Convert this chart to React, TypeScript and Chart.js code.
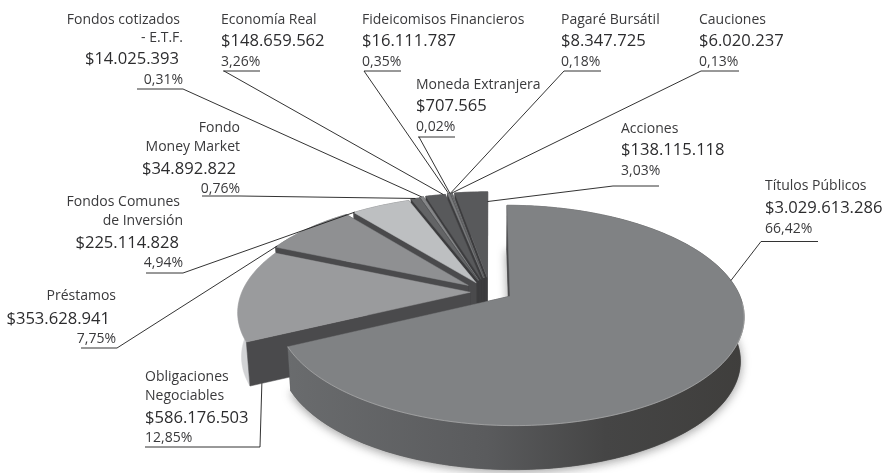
import React, { useEffect, useRef } from "react";
import { Chart, registerables } from "chart.js";

Chart.register(...registerables);

// ---- data, in drawing order (clockwise from 12 o'clock) ----
const nameLines: string[][] = [
  ["Títulos Públicos"],
  ["Obligaciones", "Negociables"],
  ["Préstamos"],
  ["Fondos Comunes", "de Inversión"],
  ["Fondo", "Money Market"],
  ["Fondos cotizados", "- E.T.F."],
  ["Economía Real"],
  ["Fideicomisos Financieros"],
  ["Moneda Extranjera"],
  ["Pagaré Bursátil"],
  ["Cauciones"],
  ["Acciones"],
];
const amounts = [
  3029613286, 586176503, 353628941, 225114828, 34892822, 14025393, 148659562,
  16111787, 707565, 8347725, 6020237, 138115118,
];
const shares = [
  "66,42%", "12,85%", "7,75%", "4,94%", "0,76%", "0,31%", "3,26%", "0,35%",
  "0,02%", "0,18%", "0,13%", "3,03%",
];
const explode = [0.1, 0.087, 0.11, 0.1, 0.11, 0.12, 0.12, 0.13, 0.13, 0.13, 0.13, 0.13];
const topColors = [
  "#808284", "#9a9b9d", "#8f9092", "#bdbfc1", "#636466", "#858688", "#58595b",
  "#7b7c7e", "#6a6b6d", "#77787a", "#77787a", "#58595b",
];

// ---- layout of the annotations (not data) ----
type Lay = {
  align: "left" | "right";
  x: number;
  xValue?: number;
  nameX?: number[];
  nameY: number[];
  valueY: number;
  pctY: number;
  under: [number, number, number];
  from: [number, number];
  at: [number, number, number]; // position along the slice, radius, depth
};
const layout: Lay[] = [
  { align: "left", x: 765, nameY: [190], valueY: 213, pctY: 233, under: [761, 818, 241.5], from: [761, 241.5], at: [0.34, 1, 0] },
  { align: "left", x: 145, nameY: [381, 400], valueY: 423, pctY: 442, under: [145, 260, 447], from: [260, 447], at: [0, 0.95, 1] },
  { align: "right", x: 116, xValue: 110, nameY: [300], valueY: 324, pctY: 343, under: [81, 117, 348], from: [117, 348], at: [0.03, 1, 0] },
  { align: "right", x: 183, xValue: 179, nameX: [180, 183], nameY: [206, 225], valueY: 248, pctY: 267, under: [146, 183, 273], from: [183, 273], at: [0.02, 1, 0] },
  { align: "right", x: 240, xValue: 236, nameY: [132, 151], valueY: 174, pctY: 193, under: [202, 240, 196], from: [240, 196], at: [0.5, 1, 0] },
  { align: "right", x: 183, xValue: 179, nameX: [180, 183], nameY: [24, 42], valueY: 64, pctY: 84, under: [137, 183, 89], from: [183, 89], at: [0.5, 1, 0] },
  { align: "left", x: 221, nameY: [24], valueY: 46, pctY: 66, under: [223, 260, 71], from: [224, 71], at: [0.9, 1, 0] },
  { align: "left", x: 362, nameY: [24], valueY: 46, pctY: 66, under: [364, 401, 71], from: [364, 71], at: [0.5, 1, 0] },
  { align: "left", x: 416, nameY: [89], valueY: 111, pctY: 131, under: [418, 455, 137], from: [419, 137], at: [0.5, 1, 0] },
  { align: "left", x: 561, nameY: [24], valueY: 46, pctY: 66, under: [564, 601, 71], from: [564, 71], at: [0.5, 1, 0] },
  { align: "left", x: 699, nameY: [24], valueY: 46, pctY: 66, under: [701, 739, 71], from: [701, 71], at: [0.5, 1, 0] },
  { align: "left", x: 621, nameY: [133], valueY: 155, pctY: 175, under: [613, 659, 186], from: [613, 186], at: [1, 0.87, 0] },
];

const money = (n: number) => "$" + String(n).replace(/\B(?=(\d{3})+(?!\d))/g, ".");

// ---- a perspective view of the flat disc ----
const view = { x0: 490, y0: 291, sx: 228, sy: 105, p: 0.173, depth: 44 };
// the reference's camera bends the back-left of the disc: clock degrees -> extra degrees
const bend: [number, number][] = [[0, 0], [150, 0], [239, 5], [285, 8], [335, 8], [349, 1], [360, 0]];
const bent = (a: number) => {
  let clock = ((a + Math.PI / 2) * 180) / Math.PI;
  clock = ((clock % 360) + 360) % 360;
  for (let k = 1; k < bend.length; k++) {
    if (clock <= bend[k][0]) {
      const [c0, s0] = bend[k - 1];
      const [c1, s1] = bend[k];
      return a + (((s0 + ((s1 - s0) * (clock - c0)) / (c1 - c0)) * Math.PI) / 180);
    }
  }
  return a;
};
const project = (u: number, v: number, z: number): [number, number] => {
  const w = 1 - view.p * v;
  const x = (view.sx * u) / w;
  const y = (view.sy * v) / w;
  return [view.x0 + x * (1 - 0.015 * z), view.y0 + y + z * view.depth];
};

function slicePoint(el: any, i: number, a: number, r: number, z: number) {
  const mid = (el.startAngle + el.endAngle) / 2;
  const ex = explode[i];
  const b = bent(a);
  return project(Math.cos(mid) * ex + Math.cos(b) * r, Math.sin(mid) * ex + Math.sin(b) * r, z);
}

function poly(ctx: CanvasRenderingContext2D, pts: [number, number][], fill: string | CanvasGradient) {
  ctx.beginPath();
  pts.forEach((p, k) => (k ? ctx.lineTo(p[0], p[1]) : ctx.moveTo(p[0], p[1])));
  ctx.closePath();
  ctx.fillStyle = fill;
  ctx.fill();
  ctx.strokeStyle = fill;
  ctx.lineWidth = 0.5;
  ctx.stroke();
}

const piePlugin = {
  id: "perspectivePie",
  beforeDatasetDraw(chart: any) {
    const ctx: CanvasRenderingContext2D = chart.ctx;
    const els = chart.getDatasetMeta(0).data;
    const angleAt = (el: any, k: number, n: number) =>
      el.startAngle + ((el.endAngle - el.startAngle) * k) / n;
    const arcOf = (el: any, i: number, z: number) => {
      const n = Math.max(2, Math.ceil((el.endAngle - el.startAngle) / 0.02));
      const out: [number, number][] = [];
      for (let k = 0; k <= n; k++) out.push(slicePoint(el, i, angleAt(el, k, n), 1, z));
      return out;
    };
    const wallGrad = ctx.createLinearGradient(270, 0, 750, 0);
    wallGrad.addColorStop(0, "#6b6d6f");
    wallGrad.addColorStop(0.45, "#5a5b5d");
    wallGrad.addColorStop(0.7, "#454545");
    wallGrad.addColorStop(1, "#3f3e3c");

    // soft shadow under the big slice
    ctx.save();
    ctx.shadowColor = "rgba(60,60,60,0.5)";
    ctx.shadowBlur = 10;
    ctx.shadowOffsetY = 2;
    poly(ctx, [slicePoint(els[0], 0, els[0].startAngle, 0, 1), ...arcOf(els[0], 0, 1)], "#555");
    ctx.restore();

    for (let i = els.length - 1; i >= 0; i--) {
      const el = els[i];
      const apexTop = slicePoint(el, i, el.startAngle, 0, 0);
      const apexBot = slicePoint(el, i, el.startAngle, 0, 1);
      const top = arcOf(el, i, 0);
      const bot = arcOf(el, i, 1);
      poly(ctx, [apexTop, top[top.length - 1], bot[bot.length - 1], apexBot], "#3c3c3e");
      poly(ctx, [...top, ...bot.slice().reverse()], i === 0 ? wallGrad : i === 1 ? "#d2d3d5" : "#6a6b6d");
      poly(ctx, [apexTop, top[0], bot[0], apexBot], i < 4 ? "#4a4a4c" : "#3c3c3e");
      poly(ctx, [apexTop, ...top], topColors[i]);
      if (i === 0) {
        // lit rim along the front edge only
        const n = top.length - 1;
        ctx.beginPath();
        let on = false;
        top.forEach((p, k) => {
          if (Math.sin(bent(angleAt(el, k, n))) < 0.05) return;
          if (on) ctx.lineTo(p[0], p[1]);
          else ctx.moveTo(p[0], p[1]);
          on = true;
        });
        ctx.strokeStyle = "rgba(190,190,190,0.55)";
        ctx.lineWidth = 1;
        ctx.stroke();
      }
    }
    return false;
  },
  afterDraw(chart: any) {
    const ctx: CanvasRenderingContext2D = chart.ctx;
    const els = chart.getDatasetMeta(0).data;
    ctx.save();
    ctx.textBaseline = "alphabetic";
    layout.forEach((l, i) => {
      const el = els[i];
      const [t, r, z] = l.at;
      const a = el.startAngle + (el.endAngle - el.startAngle) * t;
      const target = slicePoint(el, i, a, r, z);
      ctx.strokeStyle = "#1c1c1c";
      ctx.lineWidth = 0.9;
      ctx.beginPath();
      ctx.moveTo(l.under[0], l.under[2]);
      ctx.lineTo(l.under[1], l.under[2]);
      ctx.moveTo(l.from[0], l.from[1]);
      ctx.lineTo(target[0], target[1]);
      ctx.stroke();

      ctx.fillStyle = "#3a3a3c";
      ctx.textAlign = l.align;
      ctx.font = '14px "Open Sans"';
      nameLines[i].forEach((s, k) => ctx.fillText(s, l.nameX ? l.nameX[k] : l.x, l.nameY[k]));
      ctx.fillText(shares[i], l.x, l.pctY);
      ctx.fillStyle = "#2c2c2e";
      ctx.font = '16.6px "Open Sans"';
      ctx.fillText(money(amounts[i]), l.xValue ?? l.x, l.valueY);
    });
    ctx.restore();
  },
};

export default function App() {
  const ref = useRef<HTMLCanvasElement>(null);
  useEffect(() => {
    const chart = new Chart(ref.current!, {
      type: "pie",
      data: {
        labels: nameLines.map((n) => n.join(" ")),
        datasets: [{ data: amounts, backgroundColor: topColors, borderWidth: 0 }],
      },
      options: {
        responsive: false,
        animation: false,
        plugins: { legend: { display: false }, tooltip: { enabled: false } },
      },
      plugins: [piePlugin],
    });
    return () => chart.destroy();
  }, []);
  return (
    <div style={{ position: "absolute", left: 0, top: 0, width: 884, height: 473, background: "#fff" }}>
      <canvas ref={ref} width={884} height={473} />
    </div>
  );
}
